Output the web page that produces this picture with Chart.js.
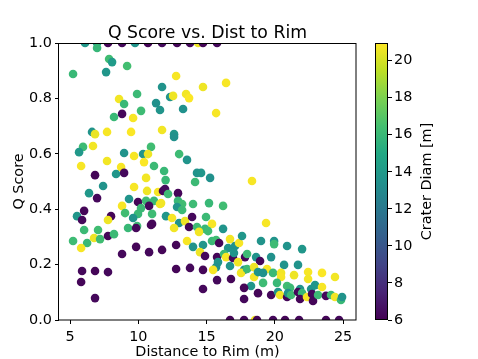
<!DOCTYPE html>
<html lang="en">
<head>
    <meta charset="UTF-8">
    <title>Q Score vs. Dist to Rim</title>
    <script src="https://cdn.jsdelivr.net/npm/chart.js"></script>
    <style>
        body { margin: 0; background: #fff; }
        .wrap { position: relative; width: 478px; height: 359px; }
        .wrap canvas { position: absolute; left: 0; top: 0; }
    </style>
</head>
<body>
<div class="wrap">
    <canvas id="scatter" width="478" height="359"></canvas>
    <canvas id="cbar" width="478" height="359"></canvas>
</div>
<script>
// distance to rim (m), one entry per crater
const distToRim = [
    6.10, 6.98, 7.78, 8.81, 9.76, 10.71, 11.74, 12.84, 13.79, 14.38,
    14.74, 15.77, 6.98, 7.86, 8.08, 5.22, 7.64, 9.18, 11.74, 9.91,
    8.59, 8.96, 11.30, 11.59, 10.20, 8.81, 9.62, 8.22, 6.61, 6.83,
    7.71, 9.47, 11.74, 12.77, 14.74, 16.43, 13.50, 13.72, 12.33, 12.55,
    13.28, 15.70, 12.62, 5.95, 5.66, 6.68, 10.93, 8.96, 9.69, 10.35,
    10.71, 5.81, 7.71, 10.42, 11.15, 8.74, 6.83, 8.37, 8.96, 10.57,
    12.00, 7.42, 9.69, 10.64, 11.45, 11.81, 11.96, 6.39, 6.98, 9.32,
    9.98, 10.57, 11.15, 11.67, 10.79, 8.81, 10.20, 6.03, 5.51, 5.88,
    8.00, 7.78, 9.03, 9.98, 11.01, 9.62, 11.01, 6.03, 7.05, 9.25,
    9.91, 12.62, 12.99, 13.57, 11.89, 14.30, 14.60, 15.26, 14.16, 18.33,
    12.18, 12.91, 11.59, 12.91, 13.21, 12.84, 13.21, 14.01, 15.18, 16.21,
    12.03, 12.47, 12.99, 13.42, 13.94, 13.72, 14.96, 15.40, 14.30, 14.89,
    16.21, 12.62, 19.36, 5.22, 6.25, 5.81, 6.76, 7.20, 7.78, 8.22,
    9.84, 10.93, 8.81, 9.84, 10.79, 11.74, 5.88, 6.83, 7.78, 5.81,
    6.83, 14.45, 15.11, 12.77, 13.57, 14.01, 14.74, 15.40, 15.70, 15.92,
    16.72, 16.58, 17.09, 17.38, 17.60, 18.99, 14.52, 14.89, 15.77, 16.28,
    16.43, 16.94, 17.01, 17.82, 17.97, 18.63, 17.31, 15.84, 15.70, 15.48,
    16.72, 12.77, 13.79, 14.74, 17.75, 17.53, 17.97, 18.48, 15.77, 16.79,
    14.74, 18.26, 17.75, 17.75, 18.55, 16.72, 17.75, 18.70, 19.87, 20.75,
    21.78, 23.75, 24.71, 18.92, 19.95, 19.95, 20.90, 22.00, 19.73, 20.68,
    21.70, 18.48, 19.43, 18.77, 19.14, 19.87, 20.46, 20.46, 21.41, 22.44,
    22.44, 23.46, 24.41, 19.14, 20.16, 20.90, 21.12, 21.85, 22.66, 22.95,
    23.46, 18.77, 19.73, 20.24, 20.38, 20.90, 20.97, 21.19, 21.70, 22.00,
    21.85, 22.36, 22.73, 22.80, 23.17, 23.75, 24.12, 24.41, 24.85, 24.93
];
const qScore = [
    1, 1, 1, 1, 1, 1, 1, 1, 1, 1,
    1, 1, 0.982, 0.942, 0.931, 0.888, 0.895, 0.917, 0.841, 0.816,
    0.798, 0.780, 0.783, 0.758, 0.755, 0.744, 0.729, 0.733, 0.679, 0.671,
    0.679, 0.679, 0.686, 0.881, 0.841, 0.856, 0.816, 0.801, 0.805, 0.809,
    0.762, 0.747, 0.671, 0.625, 0.606, 0.628, 0.625, 0.603, 0.592, 0.599,
    0.599, 0.556, 0.574, 0.570, 0.556, 0.552, 0.523, 0.527, 0.531, 0.513,
    0.505, 0.484, 0.480, 0.466, 0.462, 0.466, 0.473, 0.458, 0.440, 0.437,
    0.426, 0.430, 0.430, 0.422, 0.412, 0.412, 0.404, 0.394, 0.375, 0.361,
    0.375, 0.361, 0.386, 0.383, 0.383, 0.368, 0.347, 0.325, 0.325, 0.332,
    0.339, 0.661, 0.599, 0.578, 0.538, 0.531, 0.531, 0.513, 0.498, 0.502,
    0.455, 0.458, 0.419, 0.430, 0.419, 0.408, 0.397, 0.419, 0.422, 0.412,
    0.375, 0.368, 0.350, 0.357, 0.372, 0.336, 0.372, 0.347, 0.336, 0.329,
    0.329, 0.332, 0.350, 0.285, 0.278, 0.260, 0.296, 0.292, 0.303, 0.310,
    0.332, 0.343, 0.238, 0.264, 0.245, 0.253, 0.177, 0.177, 0.173, 0.137,
    0.079, 0.318, 0.321, 0.271, 0.285, 0.264, 0.271, 0.285, 0.289, 0.278,
    0.292, 0.260, 0.267, 0.278, 0.303, 0.285, 0.245, 0.231, 0.227, 0.238,
    0.227, 0.224, 0.242, 0.227, 0.238, 0.227, 0.209, 0.209, 0.191, 0.181,
    0.195, 0.184, 0.188, 0.181, 0.181, 0.170, 0.184, 0.155, 0.144, 0.148,
    0.112, 0.123, 0.116, 0.076, 0, 0, 0, 0, 0, 0,
    0, 0, 0, 0.213, 0.285, 0.274, 0.267, 0.256, 0.227, 0.199,
    0.199, 0.191, 0.184, 0.173, 0.170, 0.170, 0.170, 0.155, 0.162, 0.173,
    0.148, 0.170, 0.155, 0.134, 0.134, 0.123, 0.116, 0.112, 0.112, 0.126,
    0.119, 0.097, 0.090, 0.101, 0.090, 0.083, 0.097, 0.090, 0.101, 0.097,
    0.076, 0.083, 0.094, 0.069, 0.090, 0.087, 0.090, 0.083, 0.072, 0.083
];
// crater diameter (m), drives the colour
const craterDiam = [
    13.9, 14.3, 6.2, 6.3, 13.7, 6.1, 6.4, 6.2, 6.3, 20.6,
    6.2, 6.3, 15.9, 16.3, 14.1, 16.0, 13.8, 16.4, 13.6, 16.1,
    20.7, 16.0, 13.5, 13.7, 16.2, 6.3, 20.8, 16.0, 13.6, 20.5,
    20.8, 20.9, 20.7, 20.8, 20.6, 20.8, 20.7, 20.9, 13.7, 20.6,
    13.5, 20.8, 13.8, 16.2, 13.9, 20.7, 16.3, 13.6, 20.8, 13.7,
    20.6, 20.8, 20.7, 20.9, 16.1, 20.8, 6.2, 13.8, 6.3, 20.7,
    16.0, 13.6, 20.8, 20.6, 20.8, 6.2, 6.4, 13.9, 6.3, 13.7,
    6.2, 16.2, 16.0, 20.7, 6.3, 20.8, 16.1, 6.2, 13.8, 6.3,
    6.2, 20.6, 16.3, 16.0, 16.2, 13.6, 6.3, 16.1, 16.3, 16.0,
    16.2, 13.5, 16.2, 13.7, 16.0, 13.6, 13.8, 13.5, 16.1, 20.8,
    16.2, 6.2, 20.7, 16.0, 16.3, 13.7, 16.1, 16.2, 16.0, 16.3,
    13.8, 20.8, 13.6, 20.6, 6.3, 6.2, 16.1, 20.8, 16.2, 16.0,
    13.7, 20.7, 20.8, 16.2, 16.0, 20.8, 20.6, 16.3, 6.2, 16.1,
    6.3, 6.2, 6.3, 6.2, 6.3, 6.2, 6.3, 6.2, 6.3, 6.2,
    6.3, 20.7, 16.2, 6.2, 20.8, 13.6, 13.8, 16.0, 16.3, 6.2,
    20.7, 13.7, 13.5, 20.8, 13.8, 13.6, 20.6, 6.3, 6.2, 16.1,
    20.8, 6.3, 13.7, 6.2, 16.2, 13.6, 20.7, 13.8, 13.5, 20.8,
    13.7, 6.2, 6.3, 6.2, 13.6, 20.7, 16.1, 20.8, 6.3, 6.2,
    6.3, 13.8, 6.2, 6.3, 20.7, 6.2, 6.3, 6.2, 6.3, 6.2,
    6.3, 6.2, 6.3, 6.2, 13.7, 16.2, 13.6, 13.8, 13.5, 13.7,
    13.6, 20.6, 20.8, 13.7, 13.5, 16.1, 20.7, 20.8, 20.6, 20.8,
    20.7, 20.9, 20.7, 16.2, 16.0, 16.3, 16.1, 13.7, 13.6, 13.8,
    20.8, 6.2, 6.3, 13.7, 20.7, 6.2, 13.6, 16.2, 6.3, 16.0,
    6.2, 20.8, 6.3, 6.2, 16.1, 6.3, 16.2, 20.7, 16.0, 13.6
];

const xTicks = [5, 10, 15, 20, 25];
const yTicks = [0, 0.2, 0.4, 0.6, 0.8, 1.0];
const cbTicks = [6, 8, 10, 12, 14, 16, 18, 20];
const diamMin = 6;
const diamMax = 20.95;

// viridis colormap stops
const viridis = ['#440154', '#482475', '#414487', '#355f8d', '#2a788e', '#21918c',
                 '#22a884', '#44bf70', '#7ad151', '#bddf26', '#fde725'];

function hexToRgb(h) {
    return [parseInt(h.substr(1, 2), 16), parseInt(h.substr(3, 2), 16), parseInt(h.substr(5, 2), 16)];
}

function viridisColor(t) {
    t = Math.min(1, Math.max(0, t));
    const pos = t * (viridis.length - 1);
    const i = Math.min(viridis.length - 2, Math.floor(pos));
    const f = pos - i;
    const a = hexToRgb(viridis[i]), b = hexToRgb(viridis[i + 1]);
    const c = a.map((v, k) => Math.round(v + (b[k] - v) * f));
    return 'rgb(' + c.join(',') + ')';
}

const FONT = "'DejaVu Sans', sans-serif";
Chart.defaults.font.family = FONT;
Chart.defaults.color = '#000';

const points = distToRim.map((d, i) => ({ x: d, y: qScore[i] }));

// plot frame and title (centred over the axes like matplotlib)
const frameAndTitle = {
    id: 'frameAndTitle',
    afterDraw(chart) {
        const { ctx, chartArea: a } = chart;
        ctx.save();
        ctx.strokeStyle = '#000';
        ctx.lineWidth = 1;
        ctx.strokeRect(a.left - 0.5, a.top + 0.5, a.right - a.left + 0.5, a.bottom - a.top - 0.5);
        ctx.fillStyle = '#000';
        ctx.font = '17.3px ' + FONT;
        ctx.textAlign = 'center';
        ctx.textBaseline = 'alphabetic';
        ctx.fillText('Q Score vs. Dist to Rim', (a.left + a.right) / 2, 37.5);
        ctx.restore();
    }
};

new Chart(document.getElementById('scatter'), {
    type: 'scatter',
    data: {
        datasets: [{
            data: points,
            clip: 0,
            pointRadius: 4.3,
            pointHoverRadius: 4.3,
            pointBorderWidth: 0,
            pointBackgroundColor: c => viridisColor((craterDiam[c.dataIndex] - diamMin) / (diamMax - diamMin))
        }]
    },
    options: {
        responsive: false,
        animation: false,
        layout: { padding: { left: 0, right: 122, top: 43, bottom: 0 } },
        plugins: { legend: { display: false }, tooltip: { enabled: false } },
        scales: {
            x: {
                type: 'linear',
                min: 4.19,
                max: 25.95,
                afterBuildTicks: s => { s.ticks = xTicks.map(v => ({ value: v })); },
                afterFit: s => { s.height = 39; },
                border: { display: false },
                grid: { drawOnChartArea: false, tickLength: 4, color: '#000' },
                ticks: { font: { size: 14.4 }, padding: 5, maxRotation: 0, callback: v => String(v) },
                title: { display: true, text: 'Distance to Rim (m)', font: { size: 14.4 }, padding: { top: 0, bottom: -2 } }
            },
            y: {
                min: 0,
                max: 1,
                afterBuildTicks: s => { s.ticks = yTicks.map(v => ({ value: v })); },
                afterFit: s => { s.width = 59; },
                border: { display: false },
                grid: { drawOnChartArea: false, tickLength: 4, color: '#000' },
                ticks: { font: { size: 14.4 }, padding: 3, callback: v => v.toFixed(1) },
                title: { display: true, text: 'Q Score', font: { size: 14.4 }, padding: { top: 11, bottom: 0 } }
            }
        }
    },
    plugins: [frameAndTitle]
});

// colorbar: gradient in the chart area, ticks from the scale, label drawn bottom-to-top
const colorbar = {
    id: 'colorbar',
    beforeDraw(chart) {
        const { ctx, chartArea: a } = chart;
        const g = ctx.createLinearGradient(0, a.bottom, 0, a.top);
        viridis.forEach((c, i) => g.addColorStop(i / (viridis.length - 1), c));
        ctx.save();
        ctx.fillStyle = g;
        ctx.fillRect(a.left, a.top, a.right - a.left, a.bottom - a.top);
        ctx.restore();
    },
    afterDraw(chart) {
        const { ctx, chartArea: a } = chart;
        ctx.save();
        ctx.strokeStyle = '#000';
        ctx.lineWidth = 1;
        ctx.strokeRect(a.left + 0.5, a.top + 0.5, a.right - a.left - 1, a.bottom - a.top - 1);
        ctx.translate(430.5, (a.top + a.bottom) / 2);
        ctx.rotate(-Math.PI / 2);
        ctx.fillStyle = '#000';
        ctx.font = '14.4px ' + FONT;
        ctx.textAlign = 'center';
        ctx.textBaseline = 'alphabetic';
        ctx.fillText('Crater Diam [m]', 0, 0);
        ctx.restore();
    }
};

new Chart(document.getElementById('cbar'), {
    type: 'scatter',
    data: { datasets: [] },
    options: {
        responsive: false,
        animation: false,
        layout: { padding: { left: 375, right: 0, top: 43, bottom: 39 } },
        plugins: { legend: { display: false }, tooltip: { enabled: false } },
        scales: {
            x: { type: 'linear', display: false, min: 0, max: 1 },
            y: {
                position: 'right',
                min: diamMin,
                max: diamMax,
                afterBuildTicks: s => { s.ticks = cbTicks.map(v => ({ value: v })); },
                afterFit: s => { s.width = 90; },
                border: { display: false },
                grid: { drawOnChartArea: false, tickLength: 4, color: '#000' },
                ticks: { font: { size: 14.4 }, padding: 2, callback: v => String(v) }
            }
        }
    },
    plugins: [colorbar]
});
</script>
</body>
</html>
